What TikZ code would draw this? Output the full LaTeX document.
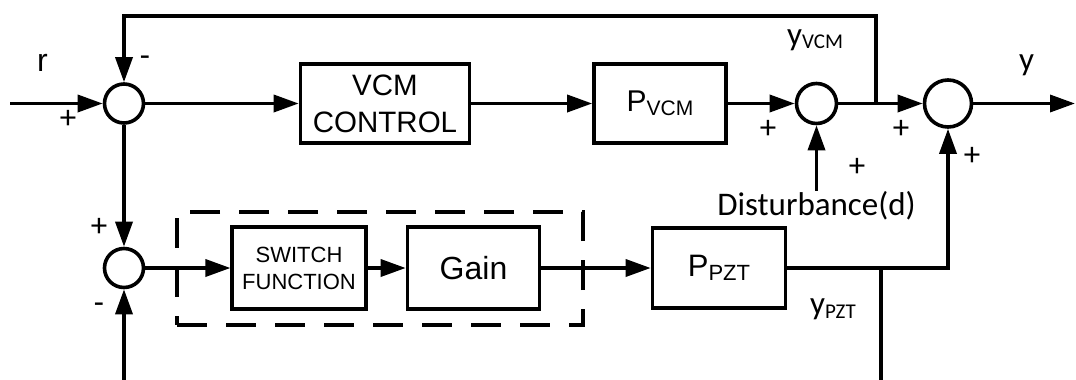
\documentclass[tikz,border=0pt]{standalone}
\usepackage{fontspec}
\newfontfamily\blkfont{Liberation Sans}
\newfontfamily\lblfont{Carlito}
\usetikzlibrary{arrows.meta}
\begin{document}
\begin{tikzpicture}[x=1pt,y=-1pt,
  blk/.style={draw, line width=3.6pt, inner sep=0pt, align=center},
  sum/.style={circle, draw, line width=3.6pt, inner sep=0pt},
  sig/.style={line width=3.5pt, -{Triangle[length=25pt,width=17pt]}},
  wire/.style={line width=3.5pt},
  sgn/.style={font=\lblfont\fontsize{33}{33}\selectfont, inner sep=0pt},
  lbl/.style={font=\lblfont\fontsize{33}{33}\selectfont, inner sep=0pt},
  group/.style={draw, line width=3.2pt, dash pattern=on 30pt off 19pt, inner sep=0pt}]
\useasboundingbox (0,0) rectangle (1076,380);

% summing junctions
\node[sum, minimum size=39pt] (c1) at (124,103.5) {};
\node[sum, minimum size=40pt] (c2) at (816.5,103.5) {};
\node[sum, minimum size=47pt] (c3) at (948,103.5) {};
\node[sum, minimum size=39pt] (c4) at (124,268) {};

% blocks
\node[blk, minimum width=169pt, minimum height=78.5pt,
      font=\blkfont\fontsize{29.5}{37}\selectfont] (vcm) at (385,103.5) {VCM\\CONTROL};
\node[blk, minimum width=132pt, minimum height=78.5pt,
      font=\blkfont\fontsize{30}{30}\selectfont] (pvcm) at (660,103.5)
      {P\raisebox{-4pt}{\fontsize{21}{21}\selectfont VCM}};
\node[group, minimum width=406pt, minimum height=113pt] (grp) at (380,268.5) {};
\node[blk, minimum width=133.5pt, minimum height=82pt,
      font=\blkfont\fontsize{22}{27}\selectfont] (sw) at (299,268) {SWITCH\\FUNCTION};
\node[blk, minimum width=132pt, minimum height=82pt,
      font=\blkfont\fontsize{32}{32}\selectfont] (gain) at (473.5,268) {Gain};
\node[blk, minimum width=133pt, minimum height=80pt,
      font=\blkfont\fontsize{31}{31}\selectfont] (ppzt) at (719,268)
      {P\raisebox{-4pt}{\fontsize{22}{22}\selectfont PZT}};

% signal labels
\node[lbl, anchor=base west, font=\blkfont\fontsize{32}{32}\selectfont] (rl) at (37,71) {r};
\node[lbl, anchor=base] (dist) at (816.5,215) {Disturbance(d)};
\node[lbl, anchor=base west] (yv) at (787,45) {y\raisebox{-3pt}{\fontsize{21}{21}\selectfont VCM}};
\node[lbl, anchor=base west] (yp) at (810,314) {y\raisebox{-4pt}{\fontsize{21}{21}\selectfont PZT}};
\node[lbl, anchor=base west] (yo) at (1019,70) {y};

% signs at the junction inputs
\node[sgn] (p1) at (68,119) {+};
\node[sgn] (m1) at (145,61) {-};
\node[sgn] (p2) at (768,129) {+};
\node[sgn] (p3) at (857,167) {+};
\node[sgn] (p4) at (901,129) {+};
\node[sgn] (p5) at (972,156) {+};
\node[sgn] (p6) at (99,227) {+};
\node[sgn] (m2) at (99,308) {-};

% helper points
\coordinate (in) at (10,103.5);
\coordinate (out) at (1075,103.5);
\coordinate (jv) at (876,103.5);
\coordinate (topr) at (876,16);
\coordinate (jb) at (881,268);
\coordinate (bot1) at (881,386);
\coordinate (bot2) at (124,386);

% upper loop
\draw[sig] (in) -- (c1.west);
\draw[sig] (c1.east) -- (vcm.west);
\draw[sig] (vcm.east) -- (pvcm.west);
\draw[sig] (pvcm.east) -- (c2.west);
\draw[sig] (c2.east) -- (c3.west);
\draw[sig] (c3.east) -- (out);
\draw[sig] (jv) -- (topr) -| (c1.north);
\draw[sig] (dist.north) -- (c2.south);

% lower loop
\draw[sig] (c1.south) -- (c4.north);
\draw[sig] (c4.east) -- (sw.west);
\draw[sig] (sw.east) -- (gain.west);
\draw[sig] (gain.east) -- (ppzt.west);
\draw[sig] (ppzt.east) -| (c3.south);
\draw[wire] (jb) -- (bot1);
\draw[sig] (bot2) -- (c4.south);
\end{tikzpicture}
\end{document}
